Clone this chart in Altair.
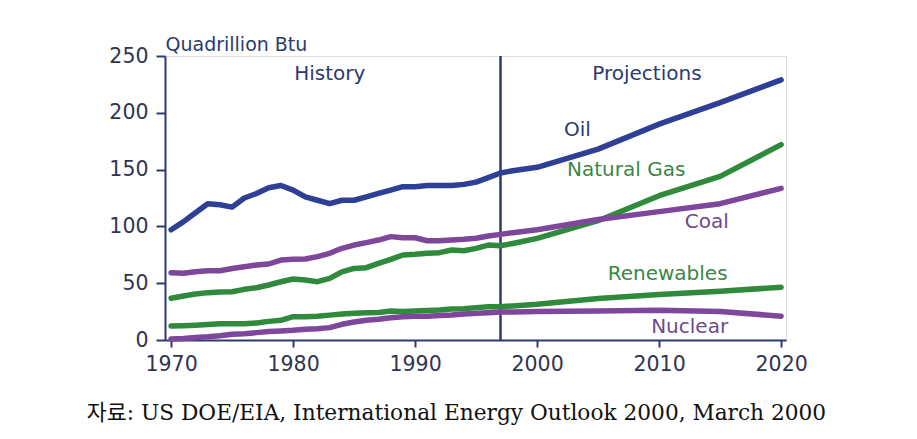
import altair as alt
import pandas as pd

# ---------------- data ----------------
years = [1970, 1971, 1972, 1973, 1974, 1975, 1976, 1977, 1978, 1979,
         1980, 1981, 1982, 1983, 1984, 1985, 1986, 1987, 1988, 1989,
         1990, 1991, 1992, 1993, 1994, 1995, 1996, 1997, 1998,
         2000, 2005, 2010, 2015, 2020]

oil = [97, 104, 112, 120, 119, 117, 125, 129, 134, 136,
       132, 126, 123, 120, 123, 123, 126, 129, 132, 135,
       135, 136, 136, 136, 137, 139, 143, 147, 149,
       152, 168, 190, 209, 229]

natural_gas = [36.7, 38.7, 40.5, 41.7, 42.2, 42.5, 44.6, 46, 48.4, 51.3,
               53.7, 52.8, 51.3, 54.3, 60, 63, 63.7, 67.5, 71, 74.8,
               75.4, 76.3, 76.9, 79.2, 78.6, 80.7, 83.6, 83, 85,
               89.5, 105, 127, 144, 172]

coal = [59.3, 58.7, 60.1, 61, 61, 63, 64.5, 66, 66.9, 70.4,
        71, 71.3, 73.4, 76.3, 80.7, 83.6, 85.7, 88, 91, 90,
        90, 87.4, 87.4, 88, 88.6, 89.5, 91.5, 93, 94.5,
        97, 106, 113, 120, 133.5]

renewables = [12.3, 12.6, 13, 13.6, 14.4, 14.4, 14.4, 15, 16.4, 17.3,
              20.5, 20.5, 21, 21.9, 22.9, 23.5, 24, 24.3, 25.5, 25,
              25.5, 26, 26.4, 27.3, 27.6, 28.5, 29.3, 29.3, 30,
              31.5, 36.5, 40, 43, 46.4]

nuclear = [0.8, 1.3, 2.2, 2.8, 3.7, 5, 5.6, 6.5, 7.4, 8,
           8.5, 9.4, 10, 10.9, 13.8, 15.8, 17.3, 18.2, 19.6, 20.5,
           21, 21, 21.6, 22, 22.9, 23.5, 24, 24.6, 24.6,
           25, 25.6, 26.2, 25, 21]

series_names = ["Oil", "Natural Gas", "Coal", "Renewables", "Nuclear"]
series_values = [oil, natural_gas, coal, renewables, nuclear]
series_colors = ["#2e3f96", "#2f8a3c", "#7e479b", "#2f8a3c", "#7e479b"]

label_text = ["Oil", "Natural Gas", "Coal", "Renewables", "Nuclear", "History", "Projections"]
label_x = [2003.3, 2007.3, 2013.9, 2010.7, 2012.5, 1983.0, 2009.0]
label_y = [185, 149.6, 104, 58, 11.4, 234, 234]
label_color = ["#2c3a70", "#3a8646", "#6f4a88", "#3a8646", "#6f4a88", "#2c3a70", "#2c3a70"]

divider_year = [1997]
x_ticks = [1970, 1980, 1990, 2000, 2010, 2020]
y_ticks = [0, 50, 100, 150, 200, 250]

caption = "자료: US DOE/EIA, International Energy Outlook 2000, March 2000"

# ---------------- tables ----------------
rows = []
for name, vals in zip(series_names, series_values):
    for yr, v in zip(years, vals):
        rows.append({"year": yr, "value": v, "series": name})
df = pd.DataFrame(rows)

labels_df = pd.DataFrame({"text": label_text, "x": label_x, "y": label_y, "color": label_color})
div_df = pd.DataFrame({"year": divider_year})

NAVY = "#2c3a6e"
TICK_LBL = "#30354f"

x_scale = alt.Scale(domain=[1969.5, 2020.4], nice=False, zero=False)
y_scale = alt.Scale(domain=[0, 250], nice=False)

x_axis = alt.Axis(values=x_ticks, format="d", title=None, grid=False,
                  domainColor=NAVY, domainWidth=2, tickColor=NAVY, tickWidth=2,
                  tickSize=7, labelPadding=7, labelFont="DejaVu Sans",
                  labelFontSize=20.5, labelColor=TICK_LBL)
y_axis = alt.Axis(values=y_ticks, title="Quadrillion Btu", titleAngle=0,
                  titleX=0, titleY=-12, titleAlign="left", titleBaseline="middle",
                  titleFont="DejaVu Sans", titleFontSize=19, titleFontWeight="normal",
                  titleColor=NAVY, grid=False,
                  domainColor=NAVY, domainWidth=2, tickColor=NAVY, tickWidth=2,
                  tickSize=9, labelPadding=8, labelFont="DejaVu Sans",
                  labelFontSize=20.5, labelColor=TICK_LBL)

lines = alt.Chart(df).mark_line(strokeWidth=5.5, strokeCap="round", strokeJoin="round").encode(
    x=alt.X("year:Q", scale=x_scale, axis=x_axis),
    y=alt.Y("value:Q", scale=y_scale, axis=y_axis),
    color=alt.Color("series:N", scale=alt.Scale(domain=series_names, range=series_colors), legend=None),
    detail="series:N",
)

divider = alt.Chart(div_df).mark_rule(color=NAVY, strokeWidth=2.5).encode(
    x=alt.X("year:Q", scale=x_scale),
)

texts = alt.Chart(labels_df).mark_text(font="DejaVu Sans", fontSize=20, align="center",
                                       baseline="middle").encode(
    x=alt.X("x:Q", scale=x_scale),
    y=alt.Y("y:Q", scale=y_scale),
    text="text:N",
    color=alt.Color("color:N", scale=None),
)

chart = alt.layer(divider, lines, texts).properties(
    width=621,
    height=284,
    autosize=alt.AutoSizeParams(type="none"),
    padding={"left": 157, "top": 48, "right": 123, "bottom": 91},
    title=alt.TitleParams(text=caption, orient="bottom", anchor="middle",
                          font="DejaVu Serif, Noto Sans CJK KR", fontSize=21.7,
                          fontWeight="normal", color="#111111", offset=28, dx=-19),
).configure_view(
    fill="#edf3f7", stroke=NAVY, strokeWidth=2
).configure(background="white")

chart.save("out.html", embed_options={"renderer": "svg", "actions": False})
